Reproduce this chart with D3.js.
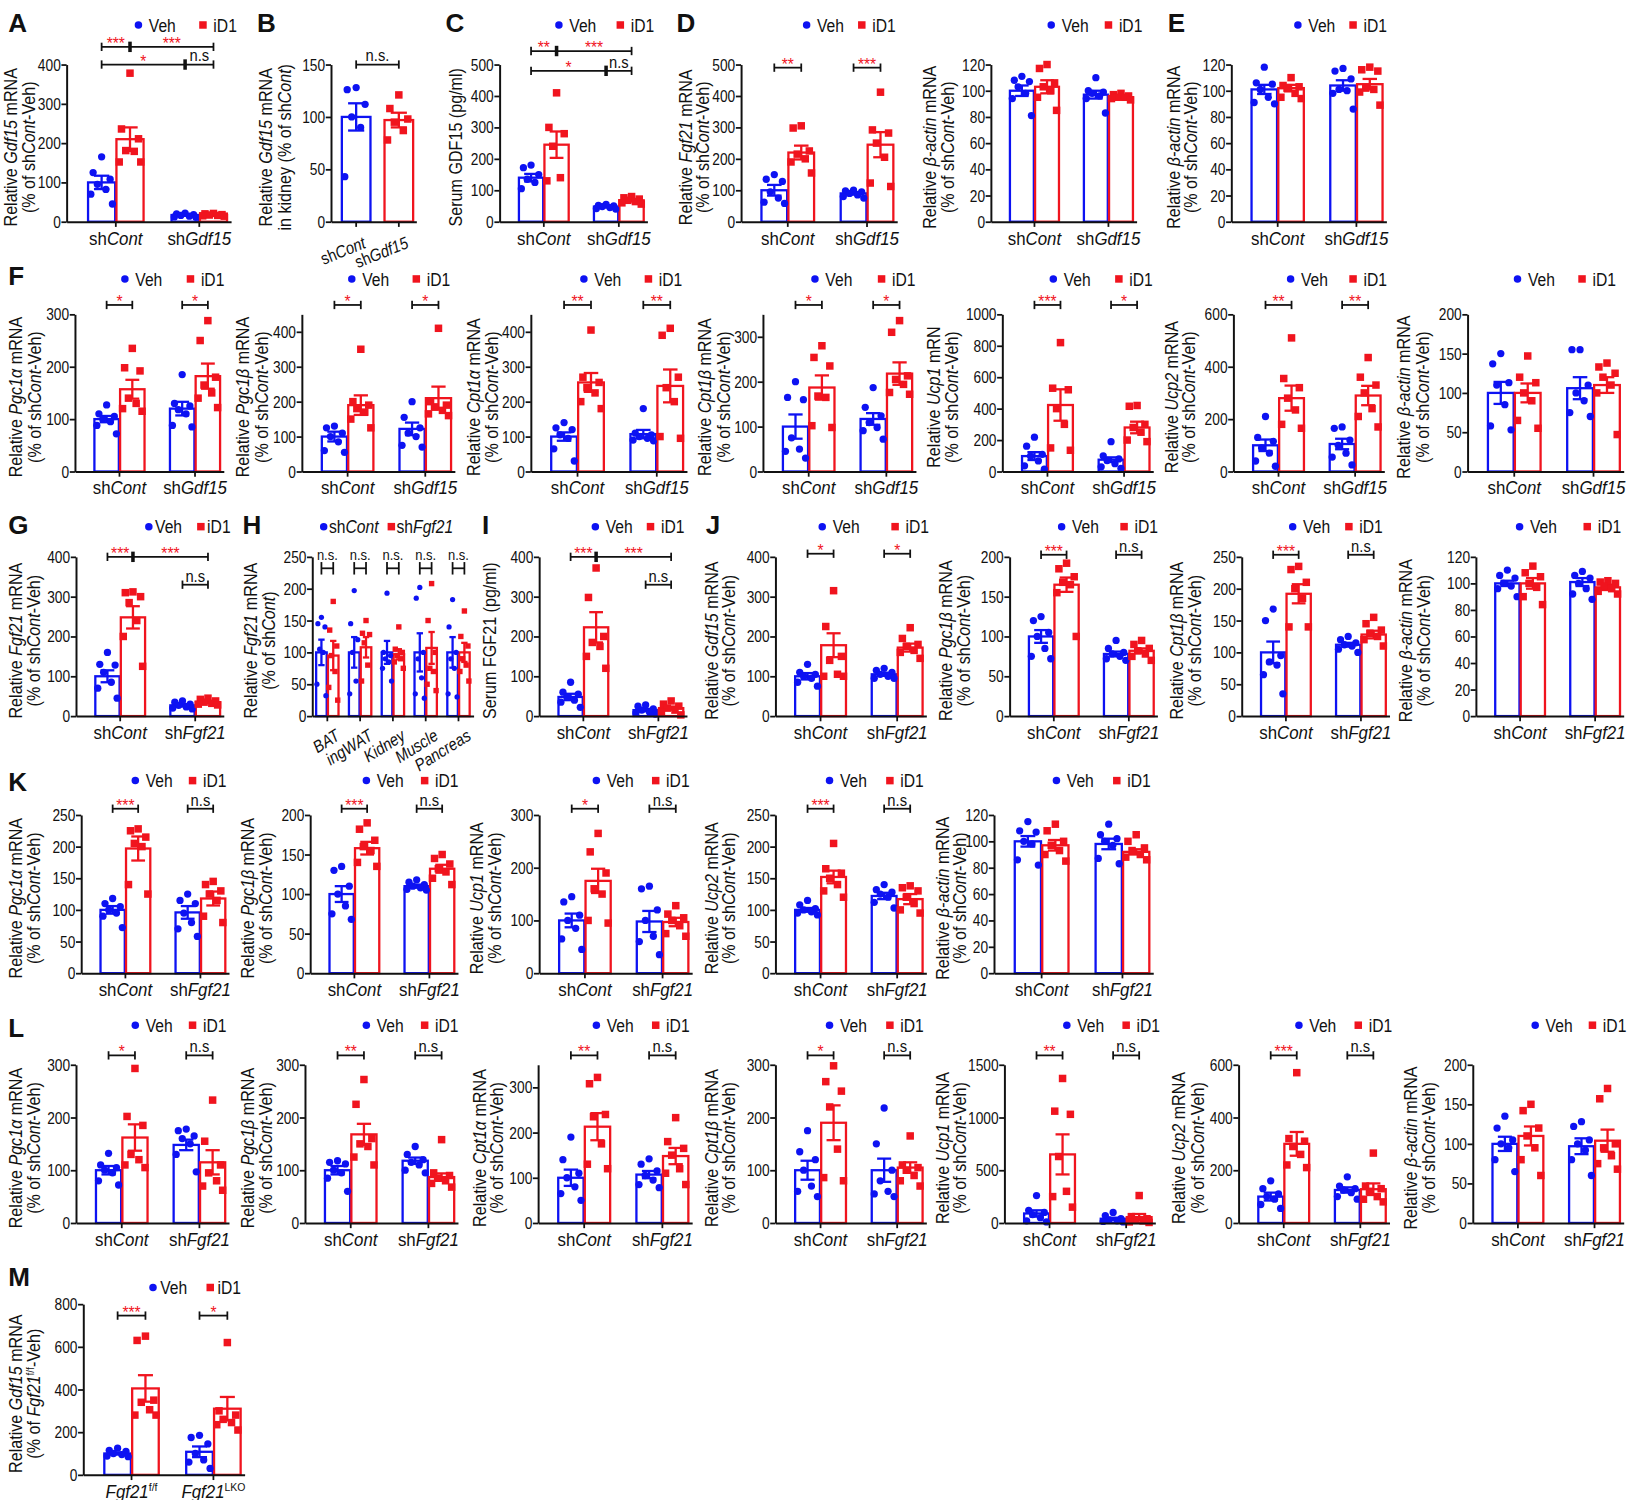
<!DOCTYPE html>
<html>
<head>
<meta charset="utf-8">
<script src="https://cdn.jsdelivr.net/npm/d3@7"></script>
<style>
  body { margin: 0; background: #fff; }
  text { font-family: "Liberation Sans", Arial, sans-serif; }
</style>
</head>
<body>
<svg id="fig" width="1632" height="1500"></svg>
<script>
// ---------------- data ----------------
// bar order in every panel: [group1 Veh, group1 iD1, group2 Veh, group2 iD1]
const catGdf = ["sh_Cont_", "sh_Gdf15_"];
const catFgf = ["sh_Cont_", "sh_Fgf21_"];
const catTissue = ["_BAT_", "_ingWAT_", "_Kidney_", "_Muscle_", "_Pancreas_"];
const catM = ["_Fgf21_^f/f^", "_Fgf21_^LKO^"];

const t120 = [0, 20, 40, 60, 80, 100, 120];
const t150 = [0, 50, 100, 150];
const t200 = [0, 50, 100, 150, 200];
const t250 = [0, 50, 100, 150, 200, 250];
const t300 = [0, 100, 200, 300];
const t400 = [0, 100, 200, 300, 400];
const t500 = [0, 100, 200, 300, 400, 500];
const t600 = [0, 200, 400, 600];
const t800 = [0, 200, 400, 600, 800];
const t1000 = [0, 200, 400, 600, 800, 1000];
const t1500 = [0, 500, 1000, 1500];

const aMean = [100, 210, 17, 17];
const aSem = [17, 30, 2, 1.5];
const aPts = [[165, 125, 108, 95, 82, 70, 45], [378, 236, 211, 181, 179, 152, 152], [22, 20, 18, 16, 14, 12, 11], [21, 20, 18, 17, 16, 15, 14]];

const bMean = [100, 97];
const bSem = [13, 7];
const bPts = [[128, 126, 112, 100, 90, 43], [121, 108, 98, 95, 87, 78]];

const cMean = [140, 245, 48, 68];
const cSem = [12, 42, 3, 4];
const cPts = [[180, 172, 150, 135, 125, 105], [410, 300, 280, 240, 140, 130], [55, 52, 50, 48, 45, 42, 40], [80, 76, 72, 68, 64, 60, 56]];

const dMean = [100, 220, 90, 245];
const dSem = [17, 22, 4, 40];
const dPts = [[150, 135, 128, 95, 75, 62, 58], [305, 298, 225, 215, 200, 190, 155], [100, 98, 95, 90, 85, 80, 75], [412, 292, 282, 250, 205, 123, 112]];

const dActMean = [100, 103, 97, 95];
const dActSem = [4, 5, 3, 1];
const dActPts = [[111, 108, 107, 103, 98, 94, 81], [120, 117, 106, 103, 100, 95, 85], [110, 100, 99, 98, 96, 94, 83], [98, 97, 96, 95, 95, 94, 93]];

const eMean = [101, 102, 104, 105];
const eSem = [3.5, 2.5, 4, 4];
const ePts = [[118, 106, 105, 101, 95, 91, 90], [110, 104, 103, 102, 98, 95, 94], [117, 115, 109, 101, 100, 98, 86], [118, 116, 115, 102, 101, 99, 89]];

const f1Mean = [100, 157, 120, 182];
const f1Sem = [6, 18, 13, 24];
const f1Pts = [[127, 110, 105, 100, 95, 88, 72], [235, 198, 192, 140, 130, 120, 115], [185, 130, 125, 118, 110, 88, 85], [288, 250, 180, 165, 150, 140, 122]];

const f2Mean = [100, 190, 122, 210];
const f2Sem = [14, 28, 18, 33];
const f2Pts = [[130, 125, 110, 100, 85, 60, 55], [350, 200, 190, 180, 170, 150, 125], [200, 155, 125, 110, 100, 75, 70], [410, 200, 190, 185, 175, 165, 160]];

const f3Mean = [100, 255, 107, 245];
const f3Sem = [12, 27, 12, 47];
const f3Pts = [[140, 125, 120, 105, 95, 65, 30], [405, 270, 255, 240, 225, 200, 180], [180, 110, 105, 100, 95, 90, 88], [410, 390, 270, 240, 200, 100, 95]];

const f4Mean = [100, 187, 117, 218];
const f4Sem = [27, 27, 13, 25];
const f4Pts = [[200, 165, 160, 75, 50, 45, 30], [280, 254, 235, 168, 165, 102, 98], [187, 143, 124, 109, 98, 91, 72], [336, 310, 213, 205, 194, 176, 172]];

const f5Mean = [98, 423, 75, 280];
const f5Sem = [25, 100, 15, 37];
const f5Pts = [[218, 161, 109, 98, 67, 36, 15], [820, 530, 520, 400, 300, 150, 135], [190, 100, 80, 70, 50, 30, 20], [420, 415, 300, 280, 250, 200, 190]];

const f6Mean = [100, 280, 105, 290];
const f6Sem = [22, 48, 20, 37];
const f6Pts = [[210, 130, 115, 90, 70, 40, 20], [510, 355, 320, 280, 235, 180, 165], [170, 165, 120, 100, 70, 55, 25], [435, 360, 330, 300, 240, 210, 170]];

const f7Mean = [100, 100, 106, 110];
const f7Sem = [14, 12, 14, 10];
const f7Pts = [[150, 137, 113, 110, 85, 58, 53], [147, 120, 113, 100, 90, 65, 55], [155, 155, 110, 100, 90, 75, 70], [138, 133, 125, 120, 110, 100, 47]];

const gMean = [100, 248, 27, 35];
const gSem = [15, 28, 3, 2];
const gPts = [[160, 130, 128, 110, 85, 70, 45], [312, 310, 300, 285, 240, 200, 125], [38, 35, 30, 27, 23, 20, 18], [45, 42, 38, 35, 32, 30, 28]];

// H: per tissue [shCont, shFgf21]
const hMean = [100, 95, 100, 108, 100, 97, 100, 107, 100, 100];
const hSem = [20, 23, 24, 16, 18, 8, 30, 25, 24, 15];
const hPts = [[155, 145, 140, 105, 100, 50, 32], [180, 135, 110, 95, 70, 45, 25], [197, 145, 120, 100, 55, 35], [150, 130, 128, 115, 80, 55],
  [193, 100, 95, 90, 85, 75, 55], [140, 105, 100, 95, 90, 85, 75], [202, 185, 100, 90, 60, 35, 28], [208, 150, 100, 75, 70, 50, 40],
  [183, 140, 100, 90, 75, 35, 30], [165, 125, 110, 90, 80, 70, 55]];

const iMean = [48, 223, 15, 20];
const iSem = [8, 38, 3, 4];
const iPts = [[85, 60, 55, 48, 40, 35, 22], [372, 298, 200, 185, 175, 150, 120], [28, 25, 18, 15, 10, 8, 5], [38, 30, 25, 20, 15, 10, 3]];

const j1Mean = [100, 178, 105, 172];
const j1Sem = [8, 30, 4, 10];
const j1Pts = [[130, 110, 105, 100, 95, 85, 75], [315, 225, 150, 140, 105, 100, 100], [120, 115, 110, 105, 100, 95, 95], [222, 195, 180, 175, 165, 160, 145]];

const j2Mean = [100, 165, 78, 82];
const j2Sem = [8, 9, 3, 3];
const j2Pts = [[125, 120, 105, 100, 85, 75, 72], [192, 185, 175, 168, 165, 155, 100], [95, 85, 80, 78, 75, 72, 70], [95, 90, 85, 82, 78, 75, 70]];

const j3Mean = [100, 192, 112, 128];
const j3Sem = [17, 15, 3, 6];
const j3Pts = [[168, 150, 95, 85, 80, 65, 35], [235, 230, 210, 200, 185, 140, 140], [125, 120, 115, 112, 110, 105, 100], [155, 145, 135, 130, 125, 120, 110]];

const j4Mean = [100, 100, 101, 97];
const j4Sem = [2, 4, 3, 2];
const j4Pts = [[110, 106, 104, 100, 98, 96, 90], [113, 108, 105, 100, 97, 90, 84], [109, 106, 104, 100, 96, 92, 88], [102, 101, 100, 98, 96, 94, 92]];

const k1Mean = [100, 197, 96, 118];
const k1Sem = [6, 19, 10, 11];
const k1Pts = [[118, 110, 105, 100, 95, 90, 72], [228, 225, 215, 205, 200, 140, 125], [125, 115, 110, 95, 80, 70, 58], [145, 140, 130, 125, 115, 90, 80]];

const k2Mean = [100, 158, 110, 132];
const k2Sem = [10, 8, 2, 5];
const k2Pts = [[135, 130, 110, 100, 85, 75, 68], [190, 182, 168, 160, 155, 140, 135], [118, 115, 112, 110, 108, 106, 105], [150, 145, 138, 132, 128, 120, 112]];

const k3Mean = [100, 175, 98, 97];
const k3Sem = [13, 23, 20, 8];
const k3Pts = [[145, 135, 110, 100, 85, 65, 45], [265, 230, 190, 160, 150, 100, 95], [165, 160, 120, 100, 70, 60, 35], [128, 112, 105, 100, 90, 75, 70]];

const k4Mean = [100, 152, 122, 117];
const k4Sem = [3, 10, 5, 8];
const k4Pts = [[115, 108, 102, 100, 97, 95, 92], [205, 165, 158, 150, 140, 130, 120], [140, 132, 128, 125, 120, 112, 103], [138, 135, 130, 120, 110, 100, 95]];

const k5Mean = [100, 97, 98, 92];
const k5Sem = [4, 4, 4, 2];
const k5Pts = [[115, 108, 107, 100, 98, 86, 82], [113, 108, 100, 97, 93, 90, 85], [113, 105, 102, 100, 97, 87, 83], [105, 100, 95, 93, 90, 88, 86]];

const l1Mean = [100, 162, 148, 115];
const l1Sem = [8, 25, 10, 23];
const l1Pts = [[132, 110, 105, 100, 95, 80, 72], [293, 202, 185, 130, 120, 110, 105], [178, 175, 165, 160, 150, 130, 97], [233, 155, 110, 95, 80, 70, 62]];

const l2Mean = [100, 168, 118, 87];
const l2Sem = [8, 20, 6, 7];
const l2Pts = [[118, 115, 112, 100, 95, 85, 60], [272, 225, 160, 150, 145, 125, 110], [145, 130, 120, 115, 110, 100, 95], [158, 95, 90, 85, 80, 75, 68]];

const l3Mean = [100, 213, 107, 148];
const l3Sem = [18, 30, 8, 18];
const l3Pts = [[190, 140, 110, 100, 80, 65, 50], [322, 308, 240, 235, 175, 130, 120], [142, 130, 115, 105, 95, 85, 78], [233, 180, 165, 150, 120, 110, 85]];

const l4Mean = [100, 190, 100, 105];
const l4Sem = [18, 33, 22, 10];
const l4Pts = [[175, 135, 120, 100, 70, 60, 50], [298, 268, 250, 220, 140, 86, 80], [218, 150, 100, 80, 60, 55, 50], [165, 110, 105, 100, 90, 80, 70]];

const l5Mean = [90, 650, 40, 55];
const l5Sem = [30, 190, 10, 30];
const l5Pts = [[260, 120, 100, 80, 50, 20, 10], [1370, 1060, 1030, 630, 300, 250, 150], [100, 70, 40, 30, 20, 15, 10], [260, 60, 40, 30, 20, 10, 5]];

const l6Mean = [100, 300, 125, 128];
const l6Sem = [15, 45, 10, 22];
const l6Pts = [[160, 130, 110, 100, 90, 70, 55], [570, 320, 310, 290, 260, 220, 210], [175, 140, 130, 125, 115, 100, 90], [265, 140, 130, 120, 100, 90, 80]];

const l7Mean = [100, 110, 97, 104];
const l7Sem = [9, 12, 10, 14];
const l7Pts = [[135, 120, 105, 100, 95, 80, 65], [150, 142, 120, 110, 95, 80, 60], [128, 122, 105, 100, 92, 80, 60], [170, 157, 100, 95, 85, 75, 68]];

const mMean = [100, 405, 108, 310];
const mSem = [5, 62, 25, 55];
const mPts = [[125, 115, 110, 100, 95, 88, 85], [650, 630, 350, 340, 305, 280, 280], [185, 175, 145, 100, 70, 60, 30], [620, 300, 280, 260, 245, 235, 210]];

// ---------------- drawing ----------------
const BLUE = "#0d12f2", RED = "#f0141e", INK = "#111";
const FONT = "'Liberation Sans', Arial, sans-serif";

const svg = d3.select("#fig");
const root = svg.append("g").attr("transform", `scale(${1632 / 1568})`);

// "_" toggles italic, "^" toggles superscript
function rich(t, s) {
  let it = false, sup = false, buf = "";
  const parts = [];
  for (const ch of s) {
    if (ch === "_" || ch === "^") {
      if (buf) parts.push([buf, it, sup]);
      buf = "";
      if (ch === "_") it = !it; else sup = !sup;
    } else buf += ch;
  }
  if (buf) parts.push([buf, it, sup]);
  parts.forEach(([str, i, u]) => {
    const ts = t.append("tspan").text(str);
    if (i) ts.attr("font-style", "italic");
    if (u) ts.attr("baseline-shift", "super").attr("font-size", "0.62em");
  });
}

function txt(g, x, y, s, o = {}) {
  const t = g.append("text")
    .attr("transform", `translate(${x},${y})${o.rot ? ` rotate(${o.rot})` : ""} scale(${o.sx ?? 0.86},1)`)
    .attr("font-size", o.size ?? 16)
    .attr("text-anchor", o.anchor ?? "start")
    .attr("fill", o.fill ?? INK);
  if (o.dy) t.attr("dy", o.dy);
  if (o.bold) t.attr("font-weight", "bold");
  rich(t, s);
  return t;
}

const R1 = { top: 62, bottom: 213, legY: 24, letY: 31 };
const RF = { top: 302, bottom: 453, legY: 268, letY: 274 };
const RG = { top: 535, bottom: 688, legY: 506, letY: 513 };
const RK = { top: 783, bottom: 935, legY: 750, letY: 760 };
const RL = { top: 1023, bottom: 1175, legY: 985, letY: 996 };
const RM = { top: 1253, bottom: 1417, legY: 1237, letY: 1236 };

const yl = gene => [`Relative _${gene}_ mRNA`, "(% of sh_Cont_-Veh)"];
const simple = (labels, py) => labels.map((l, k) => l && { py, a: 2 * k, b: 2 * k + 1, labels: [[l, 2 * k, 2 * k + 1]] }).filter(Boolean);
const triple = (v1, v2, s1, s2, s3, s4, sep) => sep
  ? [{ v: v1, a: 0, b: 3, thick: [1], labels: [[s1, 0, 1], [s2, 1, 3]] }, { v: v2, a: 2, b: 3, labels: [[s4, 2, 3]] }]
  : [{ v: v1, a: 0, b: 3, thick: [1], labels: [[s1, 0, 1], [s2, 1, 3]] }, { v: v2, a: 0, b: 3, thick: [2], labels: [[s3, 0, 2], [s4, 2, 3]] }];

const panels = [
  { letter: ["A", 8], r: R1, x: 64, xEnd: 222, ymax: 400, ticks: t400, cats: catGdf, mean: aMean, sem: aSem, pts: aPts, ylab: yl("Gdf15"), lx: [-54, -37], leg: [133, 195], br: triple(445, 400, "***", "***", "*", "n.s") },
  { letter: ["B", 247], r: R1, x: 318, xEnd: 400, ymax: 150, ticks: t150, cats: catGdf, nS: 1, pin: 0.3, pout: 0.15, align: 0.8, mean: bMean, sem: bSem, pts: bPts,
    ylab: ["Relative _Gdf15_ mRNA", "in kidney (% of sh_Cont_)"], lx: [-63, -45], catRot: [-22, 6, 14], br: [{ v: 150, a: 0, b: 1, labels: [["n.s.", 0, 1]] }] },
  { letter: ["C", 428], r: R1, x: 480, xEnd: 622, ymax: 500, ticks: t500, cats: catGdf, mean: cMean, sem: cSem, pts: cPts, ylab: ["Serum GDF15 (pg/ml)"], lx: [-43], leg: [537, 596], br: triple(543, 480, "**", "***", "*", "n.s") },
  { letter: ["D", 650], r: R1, x: 712, xEnd: 862, ymax: 500, ticks: t500, cats: catGdf, mean: dMean, sem: dSem, pts: dPts, ylab: yl("Fgf21"), lx: [-54, -37], leg: [775, 828], br: simple(["**", "***"], 3) },
  { r: R1, x: 952, xEnd: 1092, ymax: 120, ticks: t120, cats: catGdf, mean: dActMean, sem: dActSem, pts: dActPts, ylab: ["Relative  _β-actin_ mRNA", "(% of sh_Cont_-Veh)"], lx: [-59, -42], leg: [1010, 1065] },
  { letter: ["E", 1122], r: R1, x: 1183, xEnd: 1332, ymax: 120, ticks: t120, cats: catGdf, mean: eMean, sem: eSem, pts: ePts, ylab: yl("β-actin"), lx: [-56, -39], leg: [1247, 1300] },

  { letter: ["F", 8], r: RF, x: 72, xEnd: 215, ymax: 300, ticks: t300, cats: catGdf, mean: f1Mean, sem: f1Sem, pts: f1Pts, ylab: yl("Pgc1α"), lx: [-57, -39], leg: [120, 183], br: simple(["*", "*"], -9) },
  { r: RF, x: 290, xEnd: 437, ymax: 450, ticks: t400, cats: catGdf, mean: f2Mean, sem: f2Sem, pts: f2Pts, ylab: yl("Pgc1β"), lx: [-57, -39], leg: [338, 400], br: simple(["*", "*"], -9) },
  { r: RF, x: 510, xEnd: 660, ymax: 450, ticks: t400, cats: catGdf, mean: f3Mean, sem: f3Sem, pts: f3Pts, ylab: yl("Cpt1α"), lx: [-55, -38], leg: [561, 623], br: simple(["**", "**"], -9) },
  { r: RF, x: 733, xEnd: 880, ymax: 350, ticks: t300, cats: catGdf, mean: f4Mean, sem: f4Sem, pts: f4Pts, ylab: yl("Cpt1β"), lx: [-56, -38], leg: [783, 847], br: simple(["*", "*"], -9) },
  { r: RF, x: 963, xEnd: 1108, ymax: 1000, ticks: t1000, cats: catGdf, mean: f5Mean, sem: f5Sem, pts: f5Pts, ylab: ["Relative _Ucp1_ mRN", "(% of sh_Cont_-Veh)"], lx: [-66, -49], leg: [1012, 1075], br: simple(["***", "*"], -9) },
  { r: RF, x: 1185, xEnd: 1330, ymax: 600, ticks: t600, cats: catGdf, mean: f6Mean, sem: f6Sem, pts: f6Pts, ylab: yl("Ucp2"), lx: [-60, -43], leg: [1240, 1300], br: simple(["**", "**"], -9) },
  { r: RF, x: 1410, xEnd: 1560, ymax: 200, ticks: t200, cats: catGdf, mean: f7Mean, sem: f7Sem, pts: f7Pts, ylab: yl("β-actin"), lx: [-62, -44], leg: [1458, 1520] },

  { letter: ["G", 8], r: RG, x: 73, xEnd: 215, ymax: 400, ticks: t400, cats: catFgf, mean: gMean, sem: gSem, pts: gPts, ylab: yl("Fgf21"), lx: [-58, -41], leg: [143, 193], legGap: 6, br: triple(400, 330, "***", "***", null, "n.s", true) },
  { letter: ["H", 233], r: RG, x: 300, xEnd: 455, ymax: 250, ticks: t250, cats: catTissue, mean: hMean, sem: hSem, pts: hPts, pin: 0.28, pout: 0.1, align: 0.5, ms: 0.72,
    ylab: ["Relative _Fgf21_ mRNA", "(% of sh_Cont_)"], lx: [-60, -42], leg: [311, 376], legGap: 5, legText: ["sh_Cont_", "sh_Fgf21_"], catRot: [-32, 7, 12], hbr: true,
    br: catTissue.map((_, k) => ({ v: 232, a: 2 * k, b: 2 * k + 1, labels: [["n.s.", 2 * k, 2 * k + 1]] })) },
  { letter: ["I", 463], r: RG, x: 518, xEnd: 660, ymax: 400, ticks: t400, cats: catFgf, mean: iMean, sem: iSem, pts: iPts, ylab: ["Serum FGF21 (pg/ml)"], lx: [-48], leg: [572, 625], br: triple(400, 330, "***", "***", null, "n.s", true) },
  { letter: ["J", 678], r: RG, x: 745, xEnd: 890, ymax: 400, ticks: t400, cats: catFgf, mean: j1Mean, sem: j1Sem, pts: j1Pts, ylab: yl("Gdf15"), lx: [-62, -45], leg: [790, 860], br: simple(["*", "*"], -3) },
  { r: RG, x: 970, xEnd: 1112, ymax: 200, ticks: t200, cats: catFgf, mean: j2Mean, sem: j2Sem, pts: j2Pts, ylab: yl("Pgc1β"), lx: [-62, -45], leg: [1020, 1080], br: simple(["***", "n.s"], -2) },
  { r: RG, x: 1193, xEnd: 1335, ymax: 250, ticks: t250, cats: catFgf, mean: j3Mean, sem: j3Sem, pts: j3Pts, ylab: yl("Cpt1β"), lx: [-63, -46], leg: [1242, 1296], br: simple(["***", "n.s"], -2) },
  { r: RG, x: 1418, xEnd: 1560, ymax: 120, ticks: t120, cats: catFgf, mean: j4Mean, sem: j4Sem, pts: j4Pts, ylab: yl("β-actin"), lx: [-68, -51], leg: [1460, 1525] },

  { letter: ["K", 8], r: RK, x: 78, xEnd: 220, ymax: 250, ticks: t250, cats: catFgf, mean: k1Mean, sem: k1Sem, pts: k1Pts, ylab: yl("Pgc1α"), lx: [-63, -46], leg: [130, 185], br: simple(["***", "n.s"], -6) },
  { r: RK, x: 298, xEnd: 440, ymax: 200, ticks: t200, cats: catFgf, mean: k2Mean, sem: k2Sem, pts: k2Pts, ylab: yl("Pgc1β"), lx: [-60, -43], leg: [352, 408], br: simple(["***", "n.s"], -6) },
  { r: RK, x: 518, xEnd: 665, ymax: 300, ticks: t300, cats: catFgf, mean: k3Mean, sem: k3Sem, pts: k3Pts, ylab: yl("Ucp1"), lx: [-60, -43], leg: [573, 630], br: simple(["*", "n.s"], -6) },
  { r: RK, x: 745, xEnd: 890, ymax: 250, ticks: t250, cats: catFgf, mean: k4Mean, sem: k4Sem, pts: k4Pts, ylab: yl("Ucp2"), lx: [-62, -45], leg: [797, 855], br: simple(["***", "n.s"], -6) },
  { r: RK, x: 955, xEnd: 1108, ymax: 120, ticks: t120, cats: catFgf, mean: k5Mean, sem: k5Sem, pts: k5Pts, ylab: yl("β-actin"), lx: [-50, -33], leg: [1015, 1073] },

  { letter: ["L", 8], r: RL, x: 73, xEnd: 220, ymax: 300, ticks: t300, cats: catFgf, mean: l1Mean, sem: l1Sem, pts: l1Pts, ylab: yl("Pgc1α"), lx: [-58, -41], leg: [130, 185], br: simple(["*", "n.s"], -9) },
  { r: RL, x: 293, xEnd: 440, ymax: 300, ticks: t300, cats: catFgf, mean: l2Mean, sem: l2Sem, pts: l2Pts, ylab: yl("Pgc1β"), lx: [-55, -38], leg: [352, 408], br: simple(["**", "n.s"], -9) },
  { r: RL, x: 517, xEnd: 665, ymax: 350, ticks: t300, cats: catFgf, mean: l3Mean, sem: l3Sem, pts: l3Pts, ylab: yl("Cpt1α"), lx: [-57, -40], leg: [573, 630], br: simple(["**", "n.s"], -9) },
  { r: RL, x: 745, xEnd: 890, ymax: 300, ticks: t300, cats: catFgf, mean: l4Mean, sem: l4Sem, pts: l4Pts, ylab: yl("Cpt1β"), lx: [-62, -45], leg: [797, 855], br: simple(["*", "n.s"], -9) },
  { r: RL, x: 965, xEnd: 1110, ymax: 1500, ticks: t1500, cats: catFgf, mean: l5Mean, sem: l5Sem, pts: l5Pts, ylab: yl("Ucp1"), lx: [-60, -43], leg: [1025, 1082], br: simple(["**", "n.s"], -9) },
  { r: RL, x: 1190, xEnd: 1335, ymax: 600, ticks: t600, cats: catFgf, mean: l6Mean, sem: l6Sem, pts: l6Pts, ylab: yl("Ucp2"), lx: [-58, -40], leg: [1248, 1305], br: simple(["***", "n.s"], -9) },
  { r: RL, x: 1415, xEnd: 1560, ymax: 200, ticks: t200, cats: catFgf, mean: l7Mean, sem: l7Sem, pts: l7Pts, ylab: yl("β-actin"), lx: [-60, -43], leg: [1475, 1530] },

  { letter: ["M", 8], r: RM, x: 80, xEnd: 235, ymax: 800, ticks: t800, cats: catM, mean: mMean, sem: mSem, pts: mPts, ylab: ["Relative _Gdf15_ mRNA", "(% of _Fgf21_^f/f^-Veh)"], lx: [-65, -48], leg: [147, 202], legGap: 7, br: simple(["***", "*"], 11) }
];

const spread = [0, -0.3, 0.3, -0.15, 0.15, -0.38, 0.38, 0.07, -0.22];

function panel(c) {
  const g = root.append("g");
  const y = d3.scaleLinear().domain([0, c.ymax]).range([c.r.bottom, c.r.top]);
  const nS = c.nS ?? 2;
  const x = d3.scaleBand().domain(d3.range(c.cats.length)).range([c.x, c.xEnd])
    .paddingInner(c.pin ?? 0.32).paddingOuter(c.pout ?? 0.145).align(c.align ?? 0.86);
  const bw = x.bandwidth() / nS;
  const left = i => x(Math.floor(i / nS)) + (i % nS) * bw;
  const mid = i => left(i) + bw / 2;
  const col = i => (i % 2 ? RED : BLUE);
  const ms = c.ms ?? 1;

  // bars
  c.mean.forEach((m, i) => {
    g.append("rect").attr("x", left(i) + 0.6).attr("width", bw - 1.2)
      .attr("y", y(m)).attr("height", y(0) - y(m))
      .attr("fill", "none").attr("stroke", col(i)).attr("stroke-width", 2.2);
  });

  // error bars (mean ± SEM)
  c.sem.forEach((s, i) => {
    const m = c.mean[i], cx = mid(i), w = bw * 0.27;
    const e = g.append("g").attr("stroke", col(i)).attr("stroke-width", 2.2);
    e.append("line").attr("x1", cx).attr("x2", cx).attr("y1", y(m - s)).attr("y2", y(m + s));
    [m - s, m + s].forEach(v => e.append("line").attr("x1", cx - w).attr("x2", cx + w).attr("y1", y(v)).attr("y2", y(v)));
  });

  // individual points
  c.pts.forEach((arr, i) => arr.forEach((v, k) => {
    const px = mid(i) + spread[k % spread.length] * bw;
    if (i % 2 === 0) g.append("circle").attr("cx", px).attr("cy", y(v)).attr("r", 3.5 * ms).attr("fill", BLUE);
    else g.append("rect").attr("x", px - 3.6 * ms).attr("y", y(v) - 3.6 * ms).attr("width", 7.2 * ms).attr("height", 7.2 * ms).attr("fill", RED);
  }));

  // axes
  const ya = g.append("g").attr("transform", `translate(${c.x},0)`)
    .call(d3.axisLeft(y).tickValues(c.ticks).tickFormat(d3.format("d")).tickSize(5).tickSizeOuter(0));
  ya.attr("font-size", 16.5).attr("font-family", FONT).attr("color", INK);
  ya.select(".domain").attr("stroke-width", 1.9);
  ya.selectAll(".tick line").attr("stroke-width", 1.7);
  ya.selectAll(".tick text").attr("x", -7).attr("transform", "scale(0.8,1)");

  const xa = g.append("g").attr("transform", `translate(0,${y(0)})`)
    .call(d3.axisBottom(x).tickSize(5).tickSizeOuter(0).tickFormat(() => ""));
  xa.attr("color", INK);
  xa.select(".domain").attr("stroke-width", 1.9);
  xa.selectAll(".tick line").attr("stroke-width", 1.7);

  // category labels
  c.cats.forEach((s, k) => {
    const cx = x(k) + x.bandwidth() / 2;
    if (c.catRot) txt(g, cx + c.catRot[1], y(0) + c.catRot[2], s, { anchor: "end", rot: c.catRot[0], size: 16.5, dy: "0.7em" });
    else txt(g, cx, y(0) + 22, s, { anchor: "middle", size: 18, sx: 0.9 });
  });

  // y label
  const cy = (c.r.top + c.r.bottom) / 2 + 4;
  c.ylab.forEach((s, k) => txt(g, c.x + c.lx[k], cy, s, { anchor: "middle", rot: -90, size: 18, dy: "0.36em" }));

  // legend
  if (c.leg) {
    const [dx, sx] = c.leg, ly = c.r.legY, gap = c.legGap ?? 10;
    const lt = c.legText ?? ["Veh", "iD1"];
    g.append("circle").attr("cx", dx).attr("cy", ly).attr("r", 3.6).attr("fill", BLUE);
    txt(g, dx + gap, ly, lt[0], { dy: "0.36em", size: 17.5 });
    g.append("rect").attr("x", sx - 3.6).attr("y", ly - 3.6).attr("width", 7.2).attr("height", 7.2).attr("fill", RED);
    txt(g, sx + gap, ly, lt[1], { dy: "0.36em", size: 17.5 });
  }

  // significance brackets
  (c.br || []).forEach(b => {
    const by = b.v !== undefined ? y(b.v) : c.r.top + b.py;
    const k = g.append("g").attr("stroke", INK).attr("stroke-width", 1.7);
    const xa0 = mid(b.a), xb0 = mid(b.b), cap = c.hbr ? 6 : 4;
    k.append("line").attr("x1", xa0).attr("x2", xb0).attr("y1", by).attr("y2", by);
    [xa0, xb0].forEach(v => k.append("line").attr("x1", v).attr("x2", v).attr("y1", by - cap).attr("y2", by + cap));
    (b.thick || []).forEach(i => k.append("line").attr("x1", mid(i)).attr("x2", mid(i))
      .attr("y1", by - 5).attr("y2", by + 5).attr("stroke-width", 3.4));
    b.labels.forEach(([t, p, q]) => {
      if (!t) return;
      const tx = (mid(p) + mid(q)) / 2;
      if (t.startsWith("n")) txt(g, tx, by - (c.hbr ? 8 : 3), t, { anchor: "middle", size: c.hbr ? 14.5 : 16.5 });
      else txt(g, tx, by + 2, t, { anchor: "middle", size: 15, fill: RED, sx: 1 });
    });
  });

  if (c.letter) txt(g, c.letter[1], c.r.letY, c.letter[0], { size: 25, bold: true, sx: 1 });
}

panels.forEach(panel);
</script>
</body>
</html>
